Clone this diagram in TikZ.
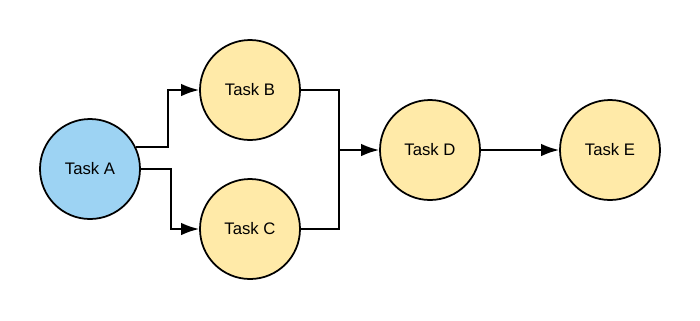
\documentclass[tikz,border=0pt]{standalone}
\usepackage{fontspec}
\setmainfont{Liberation Sans}
\usetikzlibrary{positioning,arrows.meta}
\definecolor{taskblue}{RGB}{157,211,243}
\definecolor{taskyellow}{RGB}{255,234,168}
\tikzset{
  task/.style={circle,draw=black,line width=1pt,minimum size=2cm,inner sep=0pt,
    font=\fontsize{9.5}{11}\selectfont},
  conn/.style={-{Latex[length=3.6mm,width=2.5mm]},line width=1.1pt},
  seg/.style={line width=1.1pt},
}
\begin{document}
\begin{tikzpicture}
  \useasboundingbox (0,0) rectangle (14,-6.4);
  % the five tasks
  \node[task,fill=taskblue]   (A) at (1.8,-3.38) {Task A};
  \node[task,fill=taskyellow] (B) at (5,-1.8)    {Task B};
  \node[task,fill=taskyellow] (C) at (5,-4.58)   {Task C};
  \node[task,fill=taskyellow] (D) at (8.6,-3)    {Task D};
  \node[task,fill=taskyellow] (E) at (12.2,-3)   {Task E};
  % merge point in front of D
  \coordinate[left=0.8cm of D.west] (mrg);
  % elbow connectors
  \draw[conn] (A.26) -- ++(0.64,0) |- (B.west);
  \draw[conn] (A.east) -- ++(0.6,0) |- (C.west);
  \draw[seg] (B.east) -| (mrg);
  \draw[seg] (C.east) -| (mrg);
  \draw[conn] (mrg) -- (D.west);
  \draw[conn] (D.east) -- (E.west);
\end{tikzpicture}
\end{document}
